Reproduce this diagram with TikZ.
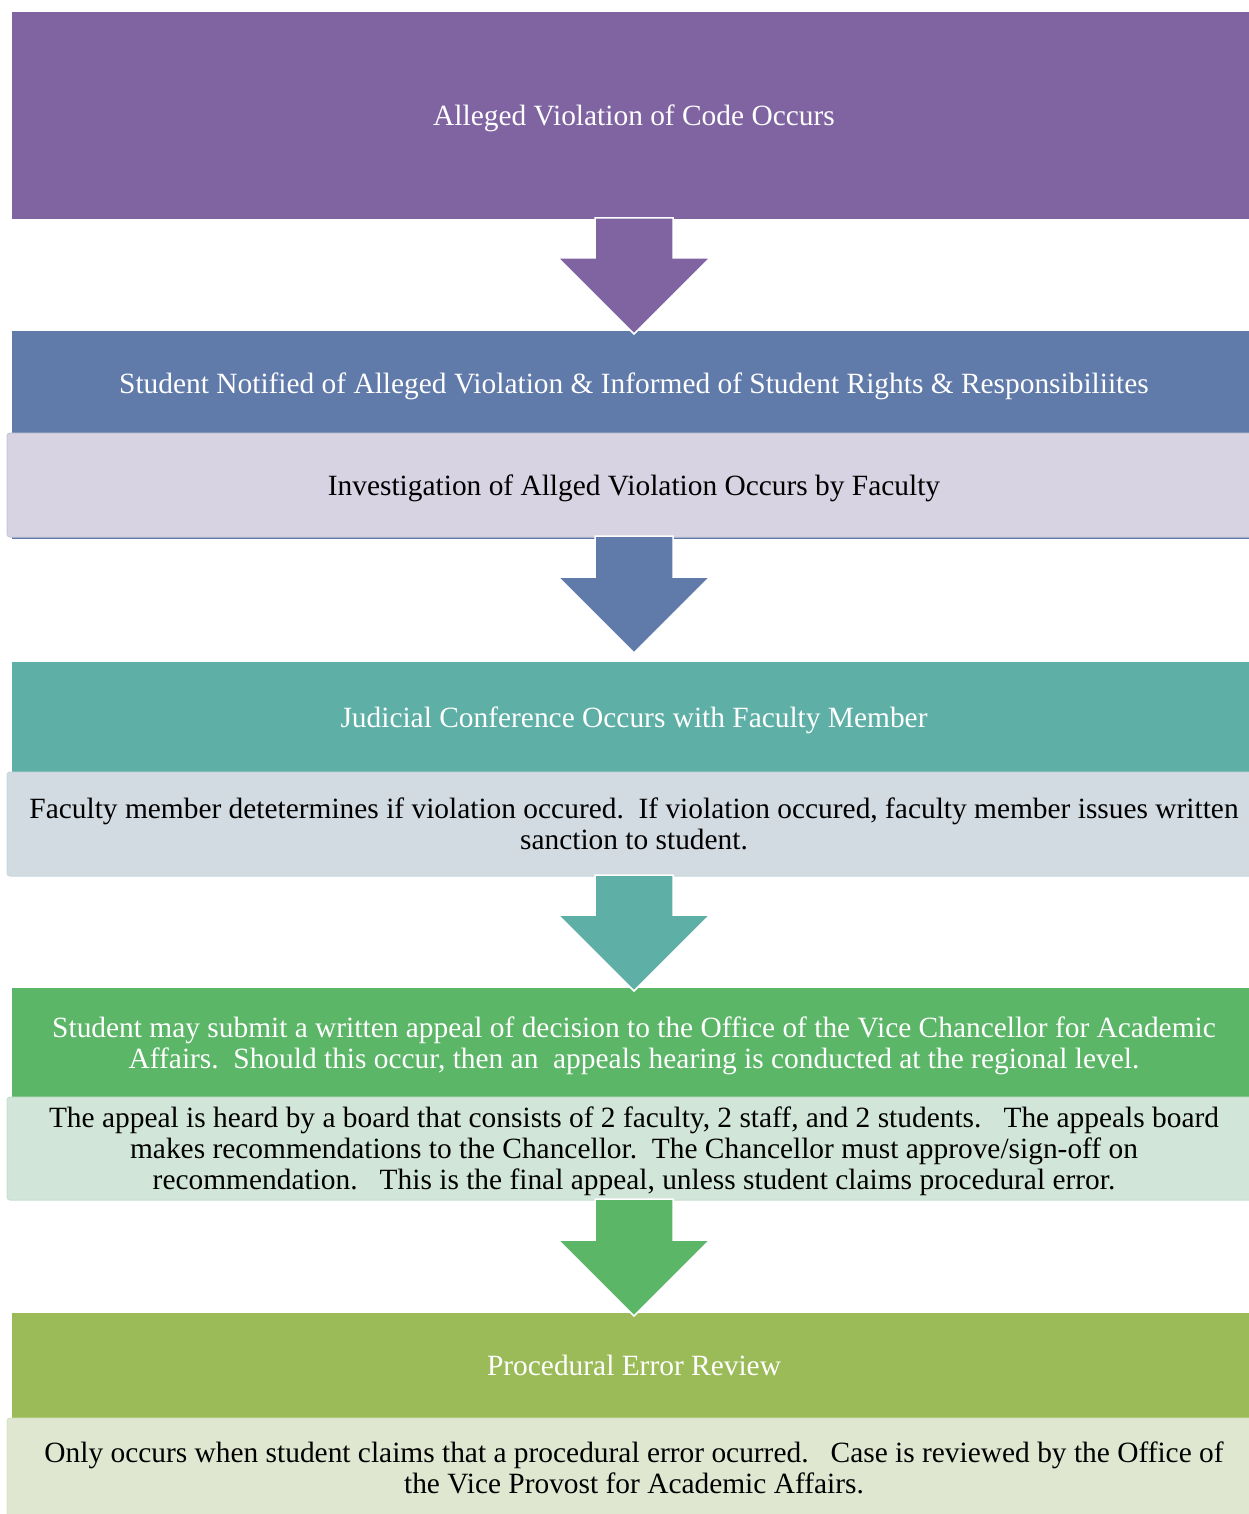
\documentclass[tikz,border=0pt]{standalone}
\usepackage{fontspec}
\setmainfont{Liberation Serif}
\usetikzlibrary{positioning,calc}

\definecolor{violetHdr}{HTML}{8064A2}
\definecolor{blueHdr}{HTML}{607AAA}
\definecolor{tealHdr}{HTML}{5EAFA5}
\definecolor{greenHdr}{HTML}{5CB668}
\definecolor{oliveHdr}{HTML}{9BBB59}
\definecolor{blueTxt}{HTML}{D7D3E2}
\definecolor{tealTxt}{HTML}{D3DBE2}
\definecolor{greenTxt}{HTML}{D2E5D9}
\definecolor{oliveTxt}{HTML}{DFE7D1}

% block arrow from one stage to the next (optional: tip offset)
\newcommand{\stagearrow}[4][-3pt]{%
  \fill[#4, draw = white, line width = 1.5pt]
    ($(#2.south)+(-39pt,1pt)$) -- ($(#2.south)+(39pt,1pt)$)
    -- ($(#3.north)+(39pt,#1)+(0,76pt)$) -- ($(#3.north)+(76pt,#1)+(0,76pt)$)
    -- ($(#3.north)+(0,#1)$)
    -- ($(#3.north)+(-76pt,#1)+(0,76pt)$) -- ($(#3.north)+(-39pt,#1)+(0,76pt)$) -- cycle;
}

\begin{document}
\begin{tikzpicture}[
    x = 1pt, y = -1pt, % pixel grid, y downwards
    node distance = 112pt, % gap between stages
    outer sep = 0pt,
    font = \fontsize{29.4}{31}\selectfont
    ]

    \tikzset{
    header/.style = {rectangle, minimum width = 1244pt, inner sep = 0pt,
      text depth = 0pt, text = white, align = center},
    detail/.style = {rectangle, rounded corners = 3pt, minimum width = 1254pt,
      minimum height = 104pt, inner sep = 0pt, text depth = 0pt, align = center,
      line width = 1pt}
    }

    \useasboundingbox (0,0) rectangle (1249,1514);
    \clip (0,0) rectangle (1249,1514);

    \node[header, fill = violetHdr, minimum height = 207pt] (alleged) at (634,115.5)
      {Alleged Violation of Code Occurs};

    \node[header, fill = blueHdr, minimum height = 102pt] (notified) [below=of alleged]
      {\raisebox{-3pt}{Student Notified of Alleged Violation \& Informed of Student Rights \& Responsibiliites}};
    \fill[blueHdr] (notified.south west) rectangle ($(notified.south east)+(0,-106pt)$);
    \node[detail, fill = blueTxt, draw = blueTxt!85!blueHdr] (investigation) [below=0pt of notified]
      {Investigation of Allged Violation Occurs by Faculty};

    \node[header, fill = tealHdr, minimum height = 110pt] (conference) [below=125pt of investigation]
      {Judicial Conference Occurs with Faculty Member};
    \node[detail, fill = tealTxt, draw = tealTxt!90!tealHdr] (sanction) [below=0pt of conference]
      {Faculty member detetermines if violation occured.\ \ If violation occured, faculty member issues written\\
       sanction to student.};

    \node[header, fill = greenHdr, minimum height = 109pt] (appeal) [below=of sanction]
      {Student may submit a written appeal of decision to the Office of the Vice Chancellor for Academic\\
       Affairs.\ \ Should this occur, then an\ \ appeals hearing is conducted at the regional level.};
    \node[detail, fill = greenTxt, draw = greenTxt!90!greenHdr, minimum height = 103pt] (board) [below=0pt of appeal]
      {The appeal is heard by a board that consists of 2 faculty, 2 staff, and 2 students.\ \ \ The appeals board\\
       makes recommendations to the Chancellor.\ \ The Chancellor must approve/sign-off on\\
       recommendation.\ \ \ This is the final appeal, unless student claims procedural error.};

    \node[header, fill = oliveHdr, minimum height = 105pt] (review) [below=113pt of board]
      {Procedural Error Review};
    \node[detail, fill = oliveTxt, draw = oliveTxt!90!oliveHdr, minimum height = 100pt] (provost) [below=0pt of review]
      {Only occurs when student claims that a procedural error ocurred.\ \ \ Case is reviewed by the Office of\\
       the Vice Provost for Academic Affairs.};

    \stagearrow{alleged}{notified}{violetHdr}
    \stagearrow[9pt]{investigation}{conference}{blueHdr}
    \stagearrow{sanction}{appeal}{tealHdr}
    \stagearrow{board}{review}{greenHdr}
\end{tikzpicture}
\end{document}
